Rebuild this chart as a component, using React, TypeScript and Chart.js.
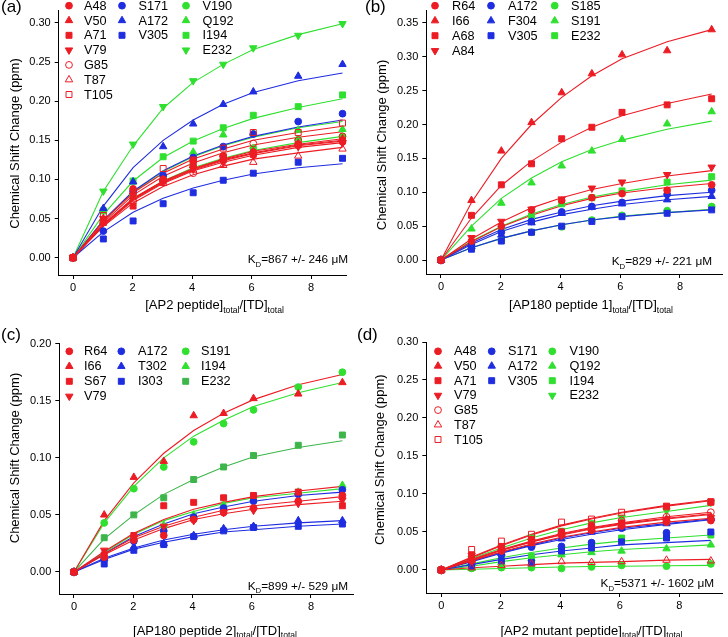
import React, { useEffect, useRef } from "react";
import { Chart, registerables } from "chart.js";
Chart.register(...registerables);

const FONT = "'Liberation Sans', Arial, Helvetica, sans-serif";
const RED = "#ec1c24";
const BLUE = "#1f2de0";
const GREEN = "#2fe02f";
const DKGREEN = "#3db54a";

// titration ratios [peptide]/[TD]
const X = [0, 1.02, 2.02, 3.03, 4.04, 5.05, 6.06, 7.57, 9.06];
const X_TICKS = [0, 2, 4, 6, 8];

// ---------- panel (a): AP2 peptide ----------
const A_NAMES = ["A48", "V50", "A71", "V79", "G85", "T87", "T105", "S171", "A172", "V305", "V190", "Q192", "I194", "E232"];
const A_MARKERS = ["circle", "triangle", "square", "invtri", "ocircle", "otriangle", "osquare", "circle", "triangle", "square", "circle", "triangle", "square", "invtri"];
const A_COLORS = [RED, RED, RED, RED, RED, RED, RED, BLUE, BLUE, BLUE, GREEN, GREEN, GREEN, GREEN];
const A_GROUPS = [0, 0, 0, 0, 0, 0, 0, 1, 1, 1, 2, 2, 2, 2];
const A_POINTS = [
  [0, 0.045, 0.088, 0.100, 0.124, 0.130, 0.135, 0.145, 0.148],
  [0, 0.050, 0.078, 0.100, 0.118, 0.128, 0.135, 0.146, 0.152],
  [0, 0.045, 0.066, 0.098, 0.120, 0.125, 0.132, 0.144, 0.150],
  [0, 0.050, 0.080, 0.097, 0.113, 0.122, 0.130, 0.142, 0.147],
  [0, 0.048, 0.072, 0.098, 0.108, 0.130, 0.146, 0.150, 0.155],
  [0, 0.046, 0.075, 0.095, 0.112, 0.118, 0.122, 0.130, 0.139],
  [0, 0.054, 0.080, 0.114, 0.125, 0.140, 0.160, 0.160, 0.172],
  [0, 0.034, 0.085, 0.105, 0.128, 0.142, 0.158, 0.174, 0.184],
  [0, 0.063, 0.097, 0.142, 0.171, 0.196, 0.212, 0.232, 0.247],
  [0, 0.024, 0.047, 0.069, 0.083, 0.099, 0.108, 0.122, 0.127],
  [0, 0.060, 0.080, 0.100, 0.118, 0.130, 0.140, 0.151, 0.155],
  [0, 0.062, 0.097, 0.106, 0.135, 0.157, 0.159, 0.163, 0.164],
  [0, 0.060, 0.098, 0.129, 0.149, 0.166, 0.182, 0.193, 0.208],
  [0, 0.085, 0.145, 0.193, 0.226, 0.247, 0.268, 0.284, 0.299],
];
const A_FITS = [
  [0, 0.042, 0.074, 0.096, 0.112, 0.124, 0.133, 0.143, 0.149],
  [0, 0.043, 0.076, 0.098, 0.114, 0.126, 0.136, 0.145, 0.152],
  [0, 0.042, 0.075, 0.097, 0.113, 0.125, 0.134, 0.144, 0.150],
  [0, 0.041, 0.073, 0.095, 0.111, 0.122, 0.131, 0.141, 0.147],
  [0, 0.045, 0.080, 0.104, 0.121, 0.134, 0.144, 0.154, 0.161],
  [0, 0.040, 0.070, 0.091, 0.106, 0.117, 0.126, 0.134, 0.141],
  [0, 0.047, 0.083, 0.108, 0.126, 0.139, 0.150, 0.160, 0.168],
  [0, 0.048, 0.085, 0.111, 0.130, 0.144, 0.155, 0.167, 0.176],
  [0, 0.066, 0.115, 0.150, 0.176, 0.196, 0.211, 0.226, 0.236],
  [0, 0.033, 0.058, 0.076, 0.089, 0.099, 0.107, 0.115, 0.120],
  [0, 0.042, 0.075, 0.098, 0.115, 0.127, 0.137, 0.147, 0.155],
  [0, 0.047, 0.084, 0.110, 0.129, 0.143, 0.154, 0.166, 0.174],
  [0, 0.055, 0.098, 0.128, 0.149, 0.165, 0.178, 0.192, 0.203],
  [0, 0.085, 0.143, 0.191, 0.224, 0.247, 0.266, 0.285, 0.299],
];
const A_Y_TICKS = [0, 0.05, 0.1, 0.15, 0.2, 0.25, 0.3];

// ---------- panel (b): AP180 peptide 1 ----------
const B_NAMES = ["R64", "I66", "A68", "A84", "A172", "F304", "V305", "S185", "S191", "E232"];
const B_MARKERS = ["circle", "triangle", "square", "invtri", "circle", "triangle", "square", "circle", "triangle", "square"];
const B_COLORS = [RED, RED, RED, RED, BLUE, BLUE, BLUE, GREEN, GREEN, GREEN];
const B_GROUPS = [0, 0, 0, 0, 1, 1, 1, 2, 2, 2];
const B_POINTS = [
  [0, 0.028, 0.050, 0.074, 0.088, 0.092, 0.098, 0.103, 0.111],
  [0, 0.088, 0.161, 0.203, 0.247, 0.275, 0.303, 0.309, 0.340],
  [0, 0.066, 0.111, 0.142, 0.179, 0.196, 0.218, 0.229, 0.238],
  [0, 0.033, 0.057, 0.075, 0.090, 0.106, 0.115, 0.126, 0.137],
  [0, 0.022, 0.041, 0.057, 0.071, 0.079, 0.085, 0.097, 0.103],
  [0, 0.020, 0.037, 0.055, 0.069, 0.078, 0.083, 0.089, 0.094],
  [0, 0.016, 0.028, 0.041, 0.050, 0.057, 0.064, 0.069, 0.074],
  [0, 0.018, 0.029, 0.041, 0.049, 0.059, 0.066, 0.073, 0.079],
  [0, 0.046, 0.084, 0.114, 0.139, 0.161, 0.178, 0.201, 0.219],
  [0, 0.022, 0.047, 0.065, 0.083, 0.092, 0.102, 0.115, 0.123],
];
const B_FITS = [
  [0, 0.027, 0.049, 0.066, 0.080, 0.091, 0.099, 0.107, 0.113],
  [0, 0.085, 0.150, 0.200, 0.240, 0.272, 0.297, 0.322, 0.340],
  [0, 0.062, 0.110, 0.146, 0.174, 0.196, 0.213, 0.231, 0.245],
  [0, 0.031, 0.056, 0.077, 0.092, 0.104, 0.113, 0.124, 0.132],
  [0, 0.025, 0.045, 0.060, 0.071, 0.080, 0.087, 0.095, 0.100],
  [0, 0.023, 0.042, 0.056, 0.067, 0.075, 0.082, 0.089, 0.094],
  [0, 0.018, 0.032, 0.043, 0.052, 0.059, 0.064, 0.070, 0.074],
  [0, 0.018, 0.032, 0.043, 0.052, 0.059, 0.065, 0.070, 0.075],
  [0, 0.050, 0.091, 0.121, 0.145, 0.163, 0.177, 0.193, 0.205],
  [0, 0.028, 0.050, 0.068, 0.082, 0.093, 0.101, 0.111, 0.118],
];
const B_Y_TICKS = [0, 0.05, 0.1, 0.15, 0.2, 0.25, 0.3, 0.35];

// ---------- panel (c): AP180 peptide 2 ----------
const C_NAMES = ["R64", "I66", "S67", "V79", "A172", "T302", "I303", "S191", "I194", "E232"];
const C_MARKERS = ["circle", "triangle", "square", "invtri", "circle", "triangle", "square", "circle", "triangle", "square"];
const C_COLORS = [RED, RED, RED, RED, BLUE, BLUE, BLUE, GREEN, GREEN, DKGREEN];
const C_GROUPS = [0, 0, 0, 0, 1, 1, 1, 2, 2, 2];
const C_POINTS = [
  [0, 0.013, 0.028, 0.032, 0.046, 0.052, 0.056, 0.062, 0.067],
  [0, 0.050, 0.083, 0.097, 0.137, 0.139, 0.152, 0.156, 0.166],
  [0, 0.015, 0.032, 0.058, 0.061, 0.065, 0.067, 0.070, 0.058],
  [0, 0.019, 0.030, 0.040, 0.045, 0.052, 0.054, 0.060, 0.063],
  [0, 0.012, 0.027, 0.036, 0.048, 0.056, 0.062, 0.068, 0.072],
  [0, 0.012, 0.022, 0.025, 0.032, 0.038, 0.040, 0.045, 0.045],
  [0, 0.007, 0.019, 0.024, 0.031, 0.036, 0.039, 0.040, 0.042],
  [0, 0.043, 0.073, 0.092, 0.114, 0.130, 0.142, 0.162, 0.175],
  [0, 0.015, 0.030, 0.041, 0.050, 0.059, 0.064, 0.070, 0.076],
  [0, 0.030, 0.050, 0.065, 0.081, 0.092, 0.102, 0.111, 0.120],
];
const C_FITS = [
  [0, 0.015, 0.028, 0.038, 0.046, 0.051, 0.055, 0.059, 0.062],
  [0, 0.045, 0.078, 0.104, 0.124, 0.139, 0.151, 0.164, 0.173],
  [0, 0.018, 0.034, 0.046, 0.055, 0.061, 0.066, 0.071, 0.075],
  [0, 0.016, 0.030, 0.040, 0.048, 0.054, 0.058, 0.062, 0.066],
  [0, 0.016, 0.031, 0.042, 0.051, 0.057, 0.062, 0.067, 0.070],
  [0, 0.012, 0.021, 0.028, 0.033, 0.037, 0.040, 0.043, 0.045],
  [0, 0.011, 0.020, 0.026, 0.031, 0.035, 0.037, 0.040, 0.042],
  [0, 0.043, 0.075, 0.100, 0.119, 0.133, 0.145, 0.157, 0.166],
  [0, 0.017, 0.033, 0.045, 0.053, 0.060, 0.065, 0.069, 0.073],
  [0, 0.029, 0.050, 0.068, 0.081, 0.092, 0.101, 0.109, 0.115],
];
const C_Y_TICKS = [0, 0.05, 0.1, 0.15, 0.2];

// ---------- panel (d): AP2 mutant peptide ----------
const D_NAMES = A_NAMES;
const D_MARKERS = A_MARKERS;
const D_COLORS = A_COLORS;
const D_GROUPS = A_GROUPS;
const D_POINTS = [
  [0, 0.012, 0.025, 0.036, 0.046, 0.052, 0.058, 0.063, 0.065],
  [0, 0.013, 0.027, 0.035, 0.048, 0.055, 0.060, 0.067, 0.070],
  [0, 0.020, 0.031, 0.040, 0.050, 0.058, 0.062, 0.084, 0.089],
  [0, 0.019, 0.028, 0.038, 0.045, 0.053, 0.059, 0.066, 0.069],
  [0, 0.014, 0.027, 0.040, 0.050, 0.058, 0.065, 0.070, 0.076],
  [0, 0.003, 0.006, 0.008, 0.011, 0.010, 0.011, 0.013, 0.012],
  [0, 0.027, 0.038, 0.047, 0.063, 0.067, 0.076, 0.083, 0.090],
  [0, 0.010, 0.020, 0.030, 0.031, 0.036, 0.055, 0.049, 0.067],
  [0, 0.010, 0.022, 0.033, 0.041, 0.050, 0.055, 0.061, 0.068],
  [0, 0.005, 0.012, 0.010, 0.025, 0.029, 0.037, 0.042, 0.050],
  [0, 0.002, 0.003, 0.003, 0.002, 0.004, 0.006, 0.005, 0.008],
  [0, 0.002, 0.010, 0.015, 0.020, 0.023, 0.025, 0.028, 0.033],
  [0, 0.006, 0.015, 0.018, 0.026, 0.035, 0.042, 0.044, 0.046],
  [0, 0.015, 0.030, 0.043, 0.052, 0.062, 0.069, 0.078, 0.089],
];
const D_FITS = [
  [0, 0.012, 0.024, 0.034, 0.043, 0.050, 0.056, 0.063, 0.068],
  [0, 0.013, 0.026, 0.037, 0.046, 0.054, 0.060, 0.067, 0.073],
  [0, 0.016, 0.032, 0.046, 0.058, 0.067, 0.075, 0.084, 0.091],
  [0, 0.013, 0.026, 0.037, 0.047, 0.055, 0.061, 0.068, 0.074],
  [0, 0.014, 0.027, 0.038, 0.048, 0.056, 0.062, 0.070, 0.076],
  [0, 0.003, 0.005, 0.007, 0.009, 0.010, 0.011, 0.013, 0.014],
  [0, 0.017, 0.033, 0.047, 0.059, 0.068, 0.076, 0.085, 0.092],
  [0, 0.011, 0.022, 0.032, 0.040, 0.047, 0.053, 0.060, 0.066],
  [0, 0.012, 0.023, 0.033, 0.042, 0.049, 0.055, 0.061, 0.067],
  [0, 0.007, 0.014, 0.020, 0.025, 0.029, 0.033, 0.036, 0.039],
  [0, 0.001, 0.002, 0.003, 0.004, 0.0045, 0.005, 0.0055, 0.006],
  [0, 0.005, 0.011, 0.016, 0.020, 0.024, 0.027, 0.030, 0.033],
  [0, 0.008, 0.016, 0.023, 0.029, 0.034, 0.038, 0.042, 0.046],
  [0, 0.015, 0.029, 0.042, 0.053, 0.062, 0.069, 0.077, 0.085],
];
const D_Y_TICKS = [0, 0.05, 0.1, 0.15, 0.2, 0.25, 0.3];

// ---------- layout of the four panels ----------
type Part = { t: string; sub?: boolean };
type PanelCfg = {
  left: number; top: number; w: number; h: number;
  area: { l: number; t: number; r: number; b: number };
  xr: [number, number]; yr: [number, number]; yTicks: number[];
  label: string; labelPos: [number, number];
  names: string[]; markers: string[]; colors: string[]; groups: number[];
  points: number[][]; fits: number[][];
  legMarkX: number[]; legTextX: number[]; legY0: number; legDY: number;
  yTitlePos: [number, number];
  xTitle: Part[]; xTitlePos: [number, number];
  kd: Part[]; kdPos: [number, number];
};

const xt = (name: string): Part[] => [
  { t: name }, { t: "total", sub: true }, { t: "/[TD]" }, { t: "total", sub: true },
];
const kdText = (s: string): Part[] => [{ t: "K" }, { t: "D", sub: true }, { t: s }];

const PANELS: PanelCfg[] = [
  {
    left: 0, top: 0, w: 364, h: 318,
    area: { l: 58.7, t: 10, r: 346.7, b: 275 },
    xr: [-0.481, 9.2], yr: [-0.02205, 0.3157], yTicks: A_Y_TICKS,
    label: "(a)", labelPos: [1, -1],
    names: A_NAMES, markers: A_MARKERS, colors: A_COLORS, groups: A_GROUPS,
    points: A_POINTS, fits: A_FITS,
    legMarkX: [69, 122, 186], legTextX: [84, 138.5, 202.5], legY0: 5.7, legDY: 14.8,
    yTitlePos: [15, 143.5],
    xTitle: xt("[AP2 peptide]"), xTitlePos: [214.5, 309],
    kd: kdText("=867 +/- 246 \u03bcM"), kdPos: [348, 263],
  },
  {
    left: 356, top: 0, w: 372, h: 318,
    area: { l: 70.3, t: 10, r: 366.3, b: 274 },
    xr: [-0.492, 9.416], yr: [-0.0206, 0.3681], yTicks: B_Y_TICKS,
    label: "(b)", labelPos: [9, -1],
    names: B_NAMES, markers: B_MARKERS, colors: B_COLORS, groups: B_GROUPS,
    points: B_POINTS, fits: B_FITS,
    legMarkX: [79, 135, 198.7], legTextX: [96, 152, 215], legY0: 5.7, legDY: 15,
    yTitlePos: [26, 145],
    xTitle: xt("[AP180 peptide 1]"), xTitlePos: [235, 309],
    kd: kdText("=829 +/- 221 \u03bcM"), kdPos: [356, 265],
  },
  {
    left: 0, top: 318, w: 364, h: 319,
    area: { l: 59.3, t: 25.7, r: 353, b: 276 },
    xr: [-0.496, 9.418], yr: [-0.0193, 0.2], yTicks: C_Y_TICKS,
    label: "(c)", labelPos: [1, 9],
    names: C_NAMES, markers: C_MARKERS, colors: C_COLORS, groups: C_GROUPS,
    points: C_POINTS, fits: C_FITS,
    legMarkX: [69.3, 121.3, 185.7], legTextX: [84, 138, 201], legY0: 33.3, legDY: 15,
    yTitlePos: [15, 140],
    xTitle: xt("[AP180 peptide 2]"), xTitlePos: [215, 316.5],
    kd: kdText("=899 +/- 529 \u03bcM"), kdPos: [348, 271.5],
  },
  {
    left: 356, top: 318, w: 372, h: 319,
    area: { l: 70.3, t: 24, r: 366.3, b: 275 },
    xr: [-0.504, 9.445], yr: [-0.0303, 0.3], yTicks: D_Y_TICKS,
    label: "(d)", labelPos: [1, 9],
    names: D_NAMES, markers: D_MARKERS, colors: D_COLORS, groups: D_GROUPS,
    points: D_POINTS, fits: D_FITS,
    legMarkX: [82, 135.7, 196.3], legTextX: [98, 152, 213.5], legY0: 33.3, legDY: 14.7,
    yTitlePos: [24.7, 141.7],
    xTitle: xt("[AP2 mutant peptide]"), xTitlePos: [235.5, 316.5],
    kd: kdText("=5371 +/- 1602 \u03bcM"), kdPos: [358, 269.3],
  },
];

// ---------- marker helpers ----------
function markerSpec(kind: string) {
  const open = kind.startsWith("o");
  const base = open ? kind.slice(1) : kind;
  let style = "circle", rot = 0, rad = 3.4;
  if (base === "triangle") { style = "triangle"; rad = 4.3; }
  if (base === "invtri") { style = "triangle"; rot = 180; rad = 4.3; }
  if (base === "square") { style = "rect"; rad = 4.2; }
  return { open, style, rot, rad };
}

function drawMarker(ctx: CanvasRenderingContext2D, kind: string, x: number, y: number, color: string) {
  const m = markerSpec(kind);
  ctx.save();
  ctx.beginPath();
  if (m.style === "circle") {
    ctx.arc(x, y, m.rad, 0, Math.PI * 2);
  } else if (m.style === "rect") {
    const s = m.rad * Math.SQRT1_2;
    ctx.rect(x - s, y - s, 2 * s, 2 * s);
  } else {
    let a = (m.rot * Math.PI) / 180;
    for (let i = 0; i < 3; i++) {
      const px = x + Math.sin(a) * m.rad, py = y - Math.cos(a) * m.rad;
      if (i === 0) ctx.moveTo(px, py); else ctx.lineTo(px, py);
      a += (2 * Math.PI) / 3;
    }
    ctx.closePath();
  }
  if (!m.open) { ctx.fillStyle = color; ctx.fill(); }
  ctx.strokeStyle = color;
  ctx.lineWidth = 1;
  ctx.stroke();
  ctx.restore();
}

function drawRich(ctx: CanvasRenderingContext2D, parts: Part[], x: number, baseline: number, align: "center" | "right", size: number) {
  const subSize = size * 0.66;
  const widths = parts.map((p) => {
    ctx.font = `${p.sub ? subSize : size}px ${FONT}`;
    return ctx.measureText(p.t).width;
  });
  const total = widths.reduce((a, b) => a + b, 0);
  let cx = align === "center" ? x - total / 2 : x - total;
  ctx.textAlign = "left";
  ctx.textBaseline = "alphabetic";
  parts.forEach((p, i) => {
    ctx.font = `${p.sub ? subSize : size}px ${FONT}`;
    ctx.fillText(p.t, cx, baseline + (p.sub ? size * 0.3 : 0));
    cx += widths[i];
  });
}

function makeConfig(cfg: PanelCfg): any {
  const pointSets = cfg.names.map((name, i) => {
    const m = markerSpec(cfg.markers[i]);
    return {
      label: name,
      data: X.map((x, j) => ({ x, y: cfg.points[i][j] })),
      showLine: false,
      pointStyle: m.style,
      rotation: m.rot,
      pointRadius: m.rad,
      pointBackgroundColor: m.open ? "rgba(255,255,255,0)" : cfg.colors[i],
      pointBorderColor: cfg.colors[i],
      pointBorderWidth: 1,
      borderColor: cfg.colors[i],
      backgroundColor: cfg.colors[i],
    };
  });
  const fitSets = cfg.names.map((name, i) => ({
    label: name + " fit",
    data: X.map((x, j) => ({ x, y: cfg.fits[i][j] })),
    showLine: true,
    pointRadius: 0,
    borderWidth: 1.1,
    borderColor: cfg.colors[i],
    backgroundColor: cfg.colors[i],
    tension: 0,
    fill: false,
  }));

  const textPlugin = {
    id: "texts",
    afterDraw(chart: any) {
      const ctx: CanvasRenderingContext2D = chart.ctx;
      ctx.save();
      ctx.fillStyle = "#000";
      // panel label
      ctx.font = `17px ${FONT}`;
      ctx.textAlign = "left";
      ctx.textBaseline = "top";
      ctx.fillText(cfg.label, cfg.labelPos[0], cfg.labelPos[1]);
      // legend
      const rowCount = [0, 0, 0];
      cfg.names.forEach((name, i) => {
        const g = cfg.groups[i];
        const y = cfg.legY0 + rowCount[g] * cfg.legDY;
        rowCount[g]++;
        drawMarker(ctx, cfg.markers[i], cfg.legMarkX[g], y, cfg.colors[i]);
        ctx.fillStyle = "#000";
        ctx.font = `12.7px ${FONT}`;
        ctx.textAlign = "left";
        ctx.textBaseline = "middle";
        ctx.fillText(name, cfg.legTextX[g], y + 0.5);
      });
      // y title
      ctx.save();
      ctx.translate(cfg.yTitlePos[0], cfg.yTitlePos[1]);
      ctx.rotate(-Math.PI / 2);
      ctx.font = `13px ${FONT}`;
      ctx.textAlign = "center";
      ctx.textBaseline = "middle";
      ctx.fillText("Chemical Shift Change (ppm)", 0, 0);
      ctx.restore();
      // x title and KD
      ctx.fillStyle = "#000";
      drawRich(ctx, cfg.xTitle, cfg.xTitlePos[0], cfg.xTitlePos[1], "center", 13);
      drawRich(ctx, cfg.kd, cfg.kdPos[0], cfg.kdPos[1], "right", 11.8);
      ctx.restore();
    },
  };

  const axisCommon = {
    type: "linear",
    grid: { display: true, drawOnChartArea: false, drawTicks: true, tickLength: 4, color: "#000", lineWidth: 1 },
    border: { display: true, color: "#000", width: 1 },
  };

  return {
    type: "scatter",
    data: { datasets: [...pointSets, ...fitSets] },
    options: {
      responsive: false,
      animation: false,
      devicePixelRatio: 1,
      events: [],
      layout: { padding: { left: 0, top: cfg.area.t, right: cfg.w - cfg.area.r, bottom: 0 } },
      plugins: { legend: { display: false }, tooltip: { enabled: false }, title: { display: false } },
      scales: {
        x: {
          ...axisCommon,
          position: "bottom",
          min: cfg.xr[0],
          max: cfg.xr[1],
          afterFit: (s: any) => { s.height = cfg.h - cfg.area.b; },
          afterBuildTicks: (s: any) => { s.ticks = X_TICKS.map((v) => ({ value: v })); },
          ticks: { font: { family: FONT, size: 11 }, color: "#000", padding: 2, maxRotation: 0, autoSkip: false, callback: (v: any) => String(v) },
        },
        y: {
          ...axisCommon,
          position: "left",
          min: cfg.yr[0],
          max: cfg.yr[1],
          afterFit: (s: any) => { s.width = cfg.area.l; },
          afterBuildTicks: (s: any) => { s.ticks = cfg.yTicks.map((v) => ({ value: v })); },
          ticks: { font: { family: FONT, size: 11 }, color: "#000", padding: 4, autoSkip: false, callback: (v: any) => Number(v).toFixed(2) },
        },
      },
    },
    plugins: [textPlugin],
  };
}

function Panel({ cfg }: { cfg: PanelCfg }) {
  const ref = useRef<HTMLCanvasElement>(null);
  useEffect(() => {
    const chart = new Chart(ref.current as HTMLCanvasElement, makeConfig(cfg));
    return () => chart.destroy();
  }, [cfg]);
  return (
    <canvas
      ref={ref}
      width={cfg.w}
      height={cfg.h}
      style={{ position: "absolute", left: cfg.left, top: cfg.top, width: cfg.w, height: cfg.h }}
    />
  );
}

export default function App() {
  return (
    <div style={{ position: "fixed", left: 0, top: 0, width: 728, height: 637, background: "#fff", overflow: "hidden" }}>
      {PANELS.map((p, i) => (
        <Panel key={i} cfg={p} />
      ))}
    </div>
  );
}
